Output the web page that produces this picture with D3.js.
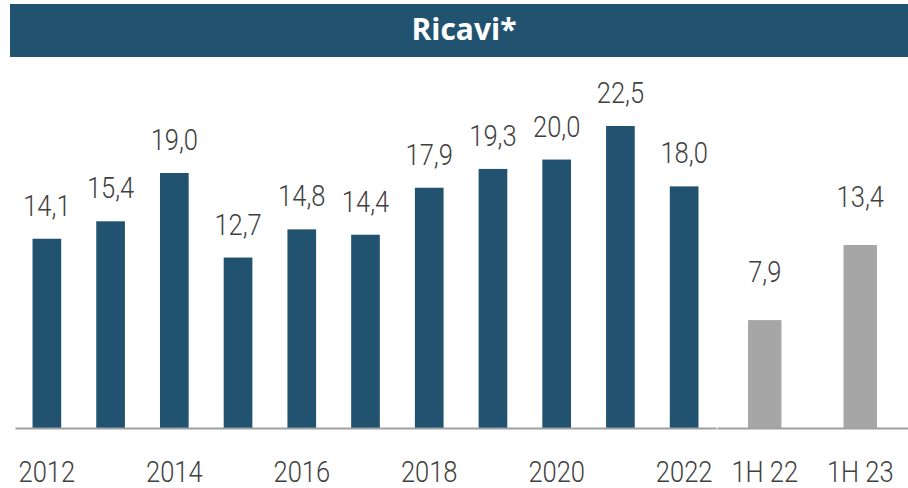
<!DOCTYPE html>
<html>
<head>
<meta charset="utf-8">
<script src="https://cdn.jsdelivr.net/npm/d3@7"></script>
<style>
  body { margin: 0; background: #fff; }
  svg { display: block; }
  .lbl { font-family: Roboto, sans-serif; font-weight: 300; font-size: 29px; fill: #404040; }
</style>
</head>
<body>
<div id="chart"></div>
<script>
// yearly revenues (left panel)
const years = ["2012", "2013", "2014", "2015", "2016", "2017", "2018", "2019", "2020", "2021", "2022"];
const yearValues = [14.1, 15.4, 19.0, 12.7, 14.8, 14.4, 17.9, 19.3, 20.0, 22.5, 18.0];
const yearTicks = ["2012", "2014", "2016", "2018", "2020", "2022"];

// half-year revenues (right panel)
const halves = ["1H 22", "1H 23"];
const halfValues = [7.9, 13.4];

const title = "Ricavi*";

var w = 908;
var h = 488;
var base = 428;
var squeeze = 0.88;

var svg = d3.select("#chart").append("svg")
  .attr("width", w)
  .attr("height", h);

///////////////////////////// Title bar

svg.append("rect")
  .attr("x", 10)
  .attr("y", 4)
  .attr("width", 898)
  .attr("height", 53)
  .attr("fill", "#215371");

svg.append("text")
  .attr("x", 464)
  .attr("y", 40)
  .attr("text-anchor", "middle")
  .style("font-family", "'Open Sans', sans-serif")
  .style("font-weight", "bold")
  .style("font-size", "30px")
  .style("fill", "#fff")
  .text(title);

///////////////////////////// Scales

var xL = d3.scaleBand()
  .domain(years)
  .range([15, 716])
  .paddingInner(0.55)
  .paddingOuter(0.275);

var yL = d3.scaleLinear()
  .domain([0, 22.5])
  .range([base, 126]);

var xR = d3.scaleBand()
  .domain(halves)
  .range([717, 908])
  .paddingInner(0.65)
  .paddingOuter(0.325);

var yR = d3.scaleLinear()
  .domain([0, 13.4])
  .range([base, 245]);

var fmt = d3.format(".1f");
function itNum(v) { return fmt(v).replace(".", ","); }

///////////////////////////// Panels

function drawPanel(cats, vals, x, y, color, labelGap) {
  var data = cats.map(function (c, i) { return { cat: c, v: vals[i] }; });
  var g = svg.append("g");

  g.selectAll("rect")
    .data(data)
    .enter().append("rect")
    .attr("x", function (d) { return x(d.cat); })
    .attr("y", function (d) { return y(d.v); })
    .attr("width", x.bandwidth())
    .attr("height", function (d) { return base - y(d.v); })
    .attr("fill", color);

  g.selectAll("text.val")
    .data(data)
    .enter().append("text")
    .attr("class", "lbl val")
    .attr("text-anchor", "middle")
    .attr("transform", function (d) {
      return "translate(" + (x(d.cat) + x.bandwidth() / 2) + "," + (y(d.v) - labelGap) + ") scale(" + squeeze + ",1)";
    })
    .text(function (d) { return itNum(d.v); });
}

drawPanel(years, yearValues, xL, yL, "#215371", 23);
drawPanel(halves, halfValues, xR, yR, "#a6a6a6", 38);

///////////////////////////// Axes

function drawAxis(x, ticks) {
  var ax = svg.append("g")
    .attr("transform", "translate(0," + base + ")")
    .call(d3.axisBottom(x).tickValues(ticks).tickSize(0).tickSizeOuter(0).tickPadding(33));

  ax.select(".domain")
    .attr("stroke", "#a0a0a0")
    .attr("stroke-width", 2);

  ax.selectAll("text")
    .attr("class", "lbl")
    .attr("fill", null)
    .attr("transform", "scale(" + squeeze + ",1)");
  ax.attr("font-family", null).attr("font-size", null);
}

drawAxis(xL, yearTicks);
drawAxis(xR, halves);
</script>
</body>
</html>
